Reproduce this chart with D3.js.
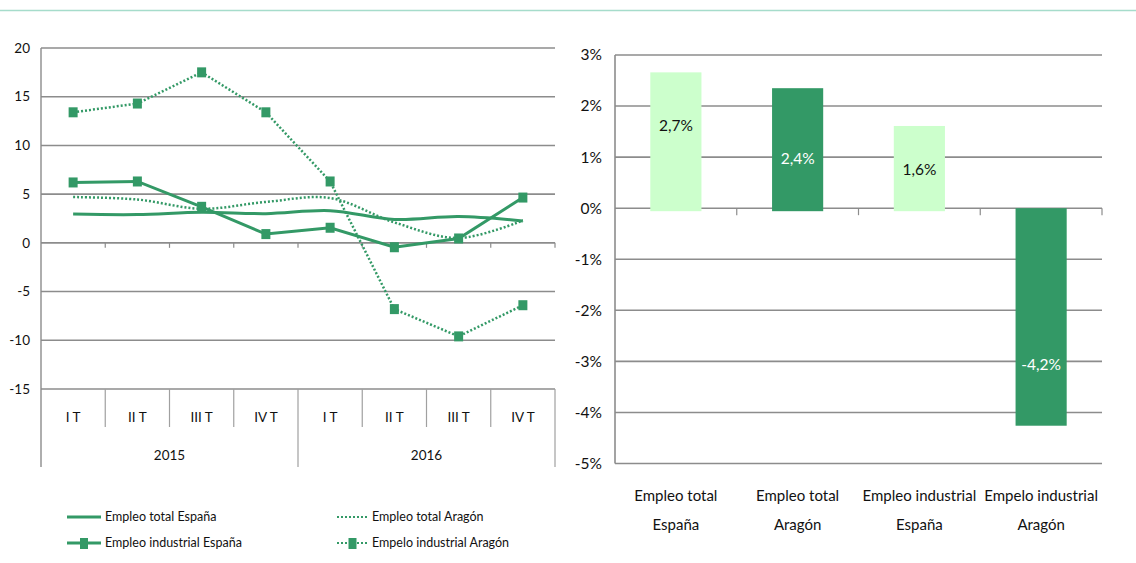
<!DOCTYPE html>
<html><head><meta charset="utf-8">
<script src="https://cdn.jsdelivr.net/npm/d3@7"></script>
<style>
body{margin:0;background:#fff;}
text{font-family:Lato,"Open Sans",sans-serif;}
</style></head>
<body><svg id="c" width="1136" height="563"></svg>
<script>
const quarters = ["I T","II T","III T","IV T","I T","II T","III T","IV T"];
const years = ["2015","2016"];
const totalEspana = [2.95, 2.9, 3.15, 3.0, 3.3, 2.4, 2.7, 2.25];
const totalAragon = [4.7, 4.45, 3.5, 4.2, 4.6, 2.1, 0.5, 2.3];
const indEspana = [6.2, 6.3, 3.7, 0.9, 1.55, -0.45, 0.45, 4.65];
const indAragon = [13.4, 14.3, 17.5, 13.4, 6.3, -6.8, -9.6, -6.4];
const leftTicks = [20, 15, 10, 5, 0, -5, -10, -15];

const barCats = [["Empleo total","España"],["Empleo total","Aragón"],["Empleo industrial","España"],["Empelo industrial","Aragón"]];
const barValues = [2.66, 2.35, 1.61, -4.26];
const barLabels = ["2,7%","2,4%","1,6%","-4,2%"];
const barLabelAt = [1.62, 0.97, 0.75, -3.07];
const rightTicks = [3,2,1,0,-1,-2,-3,-4,-5];

const green = "#339966", light = "#ccffcc", grid = "#8c8c8c";
const svg = d3.select("#c");

// top rule
svg.append("line").attr("x1",0).attr("x2",1136).attr("y1",10.5).attr("y2",10.5)
  .attr("stroke","#a6dccb").attr("stroke-width",1.5);

// ---------- left chart ----------
const L = {x0:41, x1:555, y0:48, y1:389};
const xL = d3.scaleBand().domain(d3.range(quarters.length)).range([L.x0, L.x1]);
const yL = d3.scaleLinear().domain([-15,20]).range([L.y1, L.y0]);
const gL = svg.append("g");

gL.selectAll("line.grid").data(leftTicks).join("line")
  .attr("x1",L.x0).attr("x2",L.x1).attr("y1",d=>yL(d)).attr("y2",d=>yL(d))
  .attr("stroke",grid).attr("stroke-width",1.6);
gL.selectAll("text.yt").data(leftTicks).join("text")
  .attr("x",30).attr("y",d=>yL(d)).attr("dy","0.35em").attr("text-anchor","end")
  .attr("font-size",13.5).attr("fill","#111").text(d=>d);
// y axis line
gL.append("line").attr("x1",L.x0).attr("x2",L.x0).attr("y1",L.y0).attr("y2",467)
  .attr("stroke",grid).attr("stroke-width",1.4);
// tick marks at zero line
gL.selectAll("line.zt").data(d3.range(1,quarters.length+1)).join("line")
  .attr("x1",i=>L.x0+i*xL.step()).attr("x2",i=>L.x0+i*xL.step())
  .attr("y1",yL(0)).attr("y2",yL(0)+5).attr("stroke",grid).attr("stroke-width",1.2);
// category separators
gL.selectAll("line.qs").data(d3.range(1,quarters.length+1)).join("line")
  .attr("x1",i=>L.x0+i*xL.step()).attr("x2",i=>L.x0+i*xL.step())
  .attr("y1",L.y1).attr("y2",i=>(i%4===0)?467:427).attr("stroke","#a0a0a0").attr("stroke-width",1.2);
gL.selectAll("text.q").data(quarters).join("text")
  .attr("x",(d,i)=>xL(i)+xL.bandwidth()/2).attr("y",417).attr("dy","0.35em")
  .attr("text-anchor","middle").attr("font-size",13.5).attr("fill","#111").text(d=>d);
gL.selectAll("text.yr").data(years).join("text")
  .attr("x",(d,i)=>L.x0+(i*4+2)*xL.step()).attr("y",455).attr("dy","0.35em")
  .attr("text-anchor","middle").attr("font-size",13.5).attr("fill","#111").text(d=>d);

const cx = i => xL(i)+xL.bandwidth()/2;
const smooth = d3.line().x((d,i)=>cx(i)).y(d=>yL(d)).curve(d3.curveCatmullRom.alpha(0.5));
const straight = d3.line().x((d,i)=>cx(i)).y(d=>yL(d));

gL.append("path").attr("d",smooth(totalAragon)).attr("fill","none").attr("stroke",green)
  .attr("stroke-width",2.5).attr("stroke-dasharray","2,2");
gL.append("path").attr("d",straight(indAragon)).attr("fill","none").attr("stroke",green)
  .attr("stroke-width",2.5).attr("stroke-dasharray","2,2");
gL.append("path").attr("d",smooth(totalEspana)).attr("fill","none").attr("stroke",green)
  .attr("stroke-width",3);
gL.append("path").attr("d",straight(indEspana)).attr("fill","none").attr("stroke",green)
  .attr("stroke-width",3);
[indEspana, indAragon].forEach(s=>{
  gL.selectAll(null).data(s).join("rect")
    .attr("x",(d,i)=>cx(i)-4.5).attr("y",d=>yL(d)-5).attr("width",9).attr("height",10)
    .attr("fill",green);
});

// legend
const leg = [
  {t:"Empleo total España", x:67, y:517, dash:null, m:false},
  {t:"Empleo industrial España", x:67, y:543, dash:null, m:true},
  {t:"Empleo total Aragón", x:337, y:517, dash:"2,2", m:false},
  {t:"Empelo industrial Aragón", x:337, y:543, dash:"2,2", m:true}
];
leg.forEach(l=>{
  const w = l.dash ? 31 : 34;
  svg.append("line").attr("x1",l.x).attr("x2",l.x+w).attr("y1",l.y).attr("y2",l.y)
    .attr("stroke",green).attr("stroke-width",l.dash?2:3).attr("stroke-dasharray",l.dash);
  if(l.m) svg.append("rect").attr("x",l.x+w/2-4).attr("y",l.y-5).attr("width",8).attr("height",11).attr("fill",green);
  svg.append("text").attr("x",l.x+w+4).attr("y",l.y).attr("dy","0.35em")
    .attr("font-size",12.5).attr("fill","#111").text(l.t);
});

// ---------- right chart ----------
const R = {x0:615, x1:1102};
const yR = d3.scaleLinear().domain([-5,3]).range([463.5, 55]);
const xR = d3.scaleBand().domain(d3.range(barValues.length)).range([R.x0,R.x1]).paddingInner(0.58).paddingOuter(0.29);
const gR = svg.append("g");
gR.selectAll("line.g").data(rightTicks).join("line")
  .attr("x1",R.x0).attr("x2",R.x1).attr("y1",d=>yR(d)).attr("y2",d=>yR(d))
  .attr("stroke",grid).attr("stroke-width",1.6);
gR.selectAll("text.t").data(rightTicks).join("text")
  .attr("x",602).attr("y",d=>yR(d)).attr("dy","0.35em").attr("text-anchor","end")
  .attr("font-size",15.5).attr("fill","#111").text(d=>d+"%");
gR.append("line").attr("x1",R.x0).attr("x2",R.x0).attr("y1",yR(3)).attr("y2",yR(-5))
  .attr("stroke",grid).attr("stroke-width",1.6);
const stepR = (R.x1-R.x0)/barValues.length;
gR.selectAll("line.zt").data(d3.range(1,barValues.length+1)).join("line")
  .attr("x1",i=>R.x0+i*stepR).attr("x2",i=>R.x0+i*stepR)
  .attr("y1",yR(0)).attr("y2",yR(0)+7).attr("stroke",grid).attr("stroke-width",1.2);
gR.selectAll("rect.b").data(barValues).join("rect")
  .attr("x",(d,i)=>xR(i)).attr("width",xR.bandwidth())
  .attr("y",d=>d>=0?yR(d):yR(0))
  .attr("height",d=>d>=0?yR(0)-yR(d)+3:yR(d)-yR(0))
  .attr("fill",(d,i)=>i%2===0?light:green);
gR.selectAll("text.bl").data(barLabels).join("text")
  .attr("x",(d,i)=>xR(i)+xR.bandwidth()/2).attr("y",(d,i)=>yR(barLabelAt[i])).attr("dy","0.35em")
  .attr("text-anchor","middle").attr("font-size",15.5).attr("fill",(d,i)=>i%2===0?"#111":"#fff").text(d=>d);
barCats.forEach((c,i)=>{
  c.forEach((ln,j)=>{
    gR.append("text").attr("x",xR(i)+xR.bandwidth()/2).attr("y",496+j*29).attr("dy","0.35em")
      .attr("text-anchor","middle").attr("font-size",15).attr("fill","#111").text(ln);
  });
});
</script></body></html>
